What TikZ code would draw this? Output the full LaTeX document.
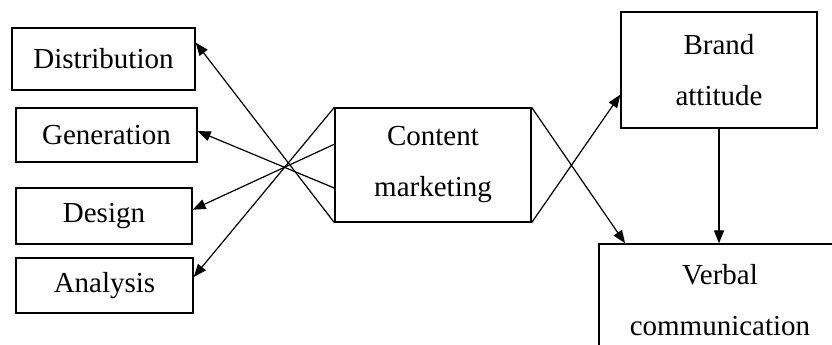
\documentclass[tikz,border=0pt]{standalone}
\usepackage{fontspec}
\setmainfont{Liberation Serif}
\usetikzlibrary{arrows.meta,calc}
\begin{document}
\begin{tikzpicture}[x=1pt,y=-1pt,
  box/.style={draw,line width=1.3pt,rectangle,inner sep=0pt,align=center,
    font=\fontsize{29}{51}\selectfont},
  link/.style={line width=1.2pt,-{Triangle[length=13pt,width=10pt]}}]
\useasboundingbox[fill=white] (0,0) rectangle (832,345);
% left column of activities
\node[box,minimum width=183pt,minimum height=62pt] (dist) at (103.5,59) {Distribution};
\node[box,minimum width=181pt,minimum height=54pt] (gen) at (106.5,135) {Generation};
\node[box,minimum width=176pt,minimum height=56pt] (des) at (104,216) {Design};
\node[box,minimum width=177pt,minimum height=55pt] (ana) at (104.5,285.5) {Analysis};
% central concept
\node[box,minimum width=196pt,minimum height=114pt] (cm) at (433,165) {Content\\marketing};
% outcomes
\node[box,minimum width=196pt,minimum height=116pt] (brand) at (719,70) {Brand\\attitude};
\node[box,minimum width=242pt,minimum height=112pt] (verb) at (720,300) {Verbal\\communication};
% fan of arrows to the activities
\draw[link] (cm.south west) -- ($(dist.north east)!0.24!(dist.south east)$);
\draw[link] ($(cm.north west)!0.70!(cm.south west)$) -- ($(gen.north east)!0.43!(gen.south east)$);
\draw[link] ($(cm.north west)!0.32!(cm.south west)$) -- ($(des.north east)!0.39!(des.south east)$);
\draw[link] (cm.north west) -- ($(ana.north east)!0.35!(ana.south east)$);
% crossing arrows to the outcomes
\draw[link] (cm.north east) -- ($(verb.north west)!0.11!(verb.north east)$);
\draw[link] (cm.south east) -- ($(brand.north west)!0.71!(brand.south west)$);
\draw[link] (brand.south) -- (brand.south |- verb.north);
\end{tikzpicture}
\end{document}
